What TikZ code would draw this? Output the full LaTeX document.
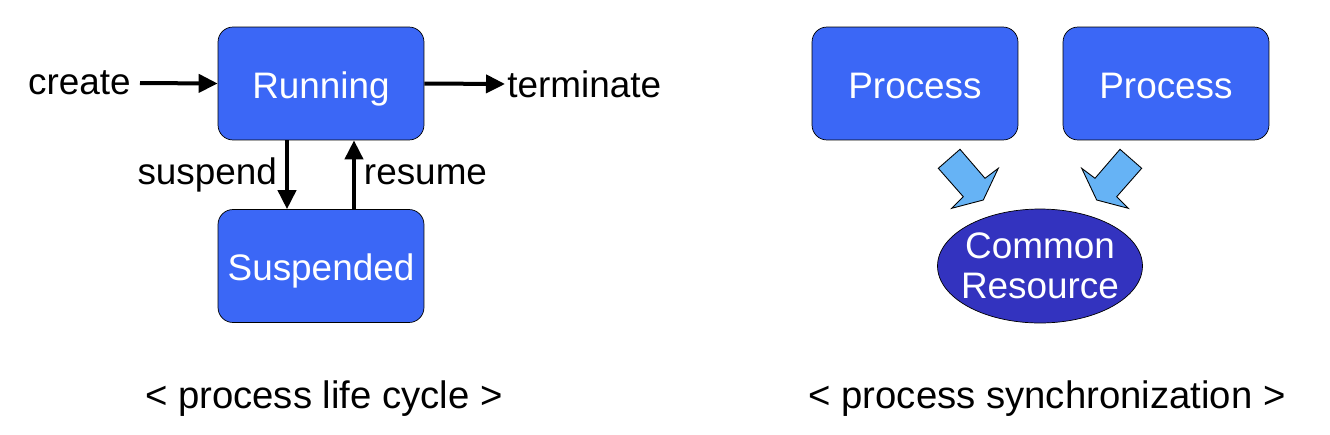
\documentclass[tikz,border=0pt]{standalone}
\usepackage{fontspec}
\setmainfont{Liberation Sans}
\usepackage{xcolor}
\definecolor{boxblue}{RGB}{59, 103, 246}
\definecolor{resblue}{RGB}{51, 51, 191}
\definecolor{flowblue}{RGB}{102, 179, 245}
\usetikzlibrary{shapes.geometric, arrows.meta, positioning, calc}

\begin{document}
\begin{tikzpicture}[x=0.02cm, y=-0.02cm,
      stbox/.style={rectangle, rounded corners=0.3cm, draw=black, fill=boxblue, text=white, font=\fontsize{21}{24}\selectfont, minimum height=2.26cm, minimum width=4.12cm, text height=0.58cm, text depth=0cm, align=center},
      resell/.style={ellipse, draw=black, fill=resblue, text=white, font=\fontsize{21}{23}\selectfont, minimum height=2.28cm, minimum width=4.1cm, inner xsep=-0.25cm, inner ysep=0pt, align=center},
      lbl/.style={font=\fontsize{21}{24}\selectfont, inner sep=0pt},
      captxt/.style={font=\fontsize{21.8}{24}\selectfont, inner sep=0pt},
      arr/.style={-{Triangle[length=0.38cm, width=0.36cm]}, line width=0.08cm, black},
      flow/.style={draw=black, fill=flowblue, line width=0.5pt, line join=miter}
  ]
    \useasboundingbox (0,0) rectangle (1330,434);

    % Life cycle
    \node[stbox] (run) at (321, 83.5) {Running};
    \node[stbox] (susp) at (321, 266) {Suspended};
    \node[lbl, anchor=east] (create) at (131, 83) {create};
    \node[lbl, anchor=west] (term) at (507, 84) {terminate};

    \draw[arr] ([xshift=0.18cm]create.east) -- (run.west);
    \draw[arr] (run.east) -- ([xshift=-0.04cm]term.west);
    \draw[arr] ([xshift=-0.68cm]run.south) -- node[lbl, left=0.16cm] (suspl) {suspend} ([xshift=-0.68cm]susp.north);
    \draw[arr] ([xshift=0.66cm]susp.north) -- node[lbl, right=0.16cm] (resl) {resume} ([xshift=0.66cm]run.south);

    % Synchronization
    \node[stbox] (p1) at (915, 83.5) {Process};
    \node[stbox] (p2) at (1166, 83.5) {Process};
    \node[resell] (res) at (1040, 266) {Common\\Resource};

    \draw[flow, shift={(res.center)}] (-80,-116.7) -- (-55,-87.7) -- (-41.7,-97.7) -- (-56.7,-66) -- (-88.3,-57.7) -- (-76.7,-69.3) -- (-101.7,-97.7) -- cycle;
    \draw[flow, shift={(res.center)}] (80,-116.7) -- (55,-87.7) -- (41.7,-97.7) -- (56.7,-66) -- (88.3,-57.7) -- (76.7,-69.3) -- (101.7,-97.7) -- cycle;

    % Captions
    \node[captxt] (cap1) at (324, 399) {< process life cycle >};
    \node[captxt] (cap2) at (1047, 399) {< process synchronization >};
  \end{tikzpicture}
\end{document}
